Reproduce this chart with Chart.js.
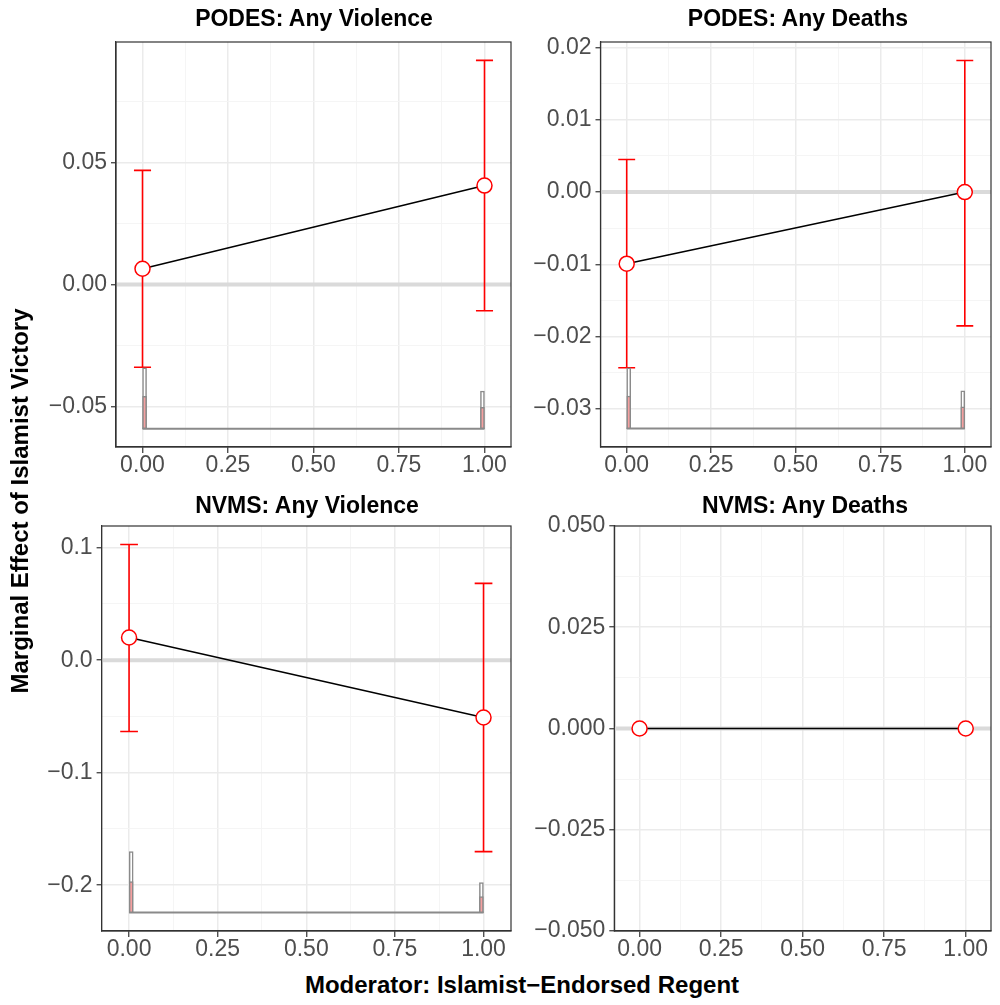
<!DOCTYPE html>
<html><head><meta charset="utf-8">
<script src="https://cdn.jsdelivr.net/npm/chart.js@4.4.1/dist/chart.umd.min.js"></script>
<style>
body{margin:0;background:#fff;width:1000px;height:1005px;position:relative;overflow:hidden;font-family:"Liberation Sans",Arial,sans-serif;}
canvas{position:absolute;}
.t{position:absolute;font-weight:bold;font-size:23px;color:#000;text-align:center;white-space:nowrap;line-height:26px;}
</style></head><body>
<script>
// ---------- data ----------
const xValues = [0, 1];
const xMajor = [0, 0.25, 0.5, 0.75, 1];
const xMajorLabels = ["0.00", "0.25", "0.50", "0.75", "1.00"];
const xMinor = [0.125, 0.375, 0.625, 0.875];
const xLimits = [-0.0775, 1.0775];
const histLo = [0, 0.988];
const histHi = [0.012, 1];
const refY = 0;

// PODES: Any Violence
const pvTitle = "PODES: Any Violence";
const pvEst = [0.0065, 0.0405];
const pvLo = [-0.0338, -0.0107];
const pvHi = [0.0467, 0.0917];
const pvHistAll = [-0.0340, -0.0435];
const pvHistTreat = [-0.0457, -0.0502];
const pvHistBase = -0.0589;
const pvYMajor = [-0.05, 0, 0.05];
const pvYLabels = ["\u22120.05", "0.00", "0.05"];
const pvYMinor = [-0.025, 0.025, 0.075];
const pvYLim = [-0.0664, 0.0992];

// PODES: Any Deaths
const pdTitle = "PODES: Any Deaths";
const pdEst = [-0.0099, 0.0];
const pdLo = [-0.0243, -0.0185];
const pdHi = [0.0045, 0.0182];
const pdHistAll = [-0.0243, -0.0275];
const pdHistTreat = [-0.0282, -0.0297];
const pdHistBase = -0.0327;
const pdYMajor = [-0.03, -0.02, -0.01, 0, 0.01, 0.02];
const pdYLabels = ["\u22120.03", "\u22120.02", "\u22120.01", "0.00", "0.01", "0.02"];
const pdYMinor = [-0.025, -0.015, -0.005, 0.005, 0.015];
const pdYLim = [-0.03525, 0.02075];

// NVMS: Any Violence
const nvTitle = "NVMS: Any Violence";
const nvEst = [0.0202, -0.0509];
const nvLo = [-0.0634, -0.1701];
const nvHi = [0.1029, 0.0683];
const nvHistAll = [-0.1701, -0.1976];
const nvHistTreat = [-0.1968, -0.2101];
const nvHistBase = -0.2243;
const nvYMajor = [-0.2, -0.1, 0, 0.1];
const nvYLabels = ["\u22120.2", "\u22120.1", "0.0", "0.1"];
const nvYMinor = [-0.15, -0.05, 0.05];
const nvYLim = [-0.2407, 0.1193];

// NVMS: Any Deaths
const ndTitle = "NVMS: Any Deaths";
const ndEst = [0, 0];
const ndYMajor = [-0.05, -0.025, 0, 0.025, 0.05];
const ndYLabels = ["\u22120.050", "\u22120.025", "0.000", "0.025", "0.050"];
const ndYMinor = [-0.0375, -0.0125, 0.0125, 0.0375];
const ndYLim = [-0.05, 0.05];

const yTitle = "Marginal Effect of Islamist Victory";
const xTitle = "Moderator: Islamist\u2212Endorsed Regent";

// ---------- layout ----------
const FONT = "'Liberation Sans', Arial, Helvetica, sans-serif";
const panels = [
  {title: pvTitle, est: pvEst, lo: pvLo, hi: pvHi, hAll: pvHistAll, hTr: pvHistTreat, hBase: pvHistBase,
   yMajor: pvYMajor, yLabels: pvYLabels, yMinor: pvYMinor, yLim: pvYLim,
   box: {left: 0, top: 22, width: 520, height: 464}, yW: 116, padR: 8, padT: 20, xH: 39},
  {title: pdTitle, est: pdEst, lo: pdLo, hi: pdHi, hAll: pdHistAll, hTr: pdHistTreat, hBase: pdHistBase,
   yMajor: pdYMajor, yLabels: pdYLabels, yMinor: pdYMinor, yLim: pdYLim,
   box: {left: 520, top: 22, width: 480, height: 464}, yW: 80.5, padR: 4.5, padT: 20, xH: 39},
  {title: nvTitle, est: nvEst, lo: nvLo, hi: nvHi, hAll: nvHistAll, hTr: nvHistTreat, hBase: nvHistBase,
   yMajor: nvYMajor, yLabels: nvYLabels, yMinor: nvYMinor, yLim: nvYLim,
   box: {left: 0, top: 506, width: 520, height: 464}, yW: 101.6, padR: 8, padT: 20, xH: 39},
  {title: ndTitle, est: ndEst, lo: null, hi: null, hAll: null, hTr: null, hBase: null,
   yMajor: ndYMajor, yLabels: ndYLabels, yMinor: ndYMinor, yLim: ndYLim,
   box: {left: 520, top: 506, width: 480, height: 464}, yW: 94.3, padR: 4.5, padT: 20, xH: 39}
];

const near = (a, b) => Math.abs(a - b) < 1e-9;
const isIn = (arr, v) => arr.some(m => near(m, v));
const labelFor = (arr, labels, v) => { const i = arr.findIndex(m => near(m, v)); return i >= 0 ? labels[i] : ''; };

const overlayPlugin = {
  id: 'overlay',
  beforeDatasetsDraw(chart) {
    const p = chart.options.plugins.overlay.panel;
    const {ctx, chartArea: a, scales: {x, y}} = chart;
    ctx.save();
    ctx.beginPath(); ctx.rect(a.left, a.top, a.width, a.height); ctx.clip();
    ctx.strokeStyle = '#dadada'; ctx.lineWidth = 4;
    const y0 = y.getPixelForValue(refY);
    ctx.beginPath(); ctx.moveTo(a.left, y0); ctx.lineTo(a.right, y0); ctx.stroke();
    if (p.lo) {
      ctx.strokeStyle = '#ff0000'; ctx.lineWidth = 1.6;
      for (let i = 0; i < xValues.length; i++) {
        const xp = x.getPixelForValue(xValues[i]);
        const yl = y.getPixelForValue(p.lo[i]), yh = y.getPixelForValue(p.hi[i]);
        const xl = x.getPixelForValue(xValues[i] - 0.025), xr = x.getPixelForValue(xValues[i] + 0.025);
        ctx.beginPath();
        ctx.moveTo(xp, yl); ctx.lineTo(xp, yh);
        ctx.moveTo(xl, yl); ctx.lineTo(xr, yl);
        ctx.moveTo(xl, yh); ctx.lineTo(xr, yh);
        ctx.stroke();
      }
    }
    ctx.restore();
  },
  afterDraw(chart) {
    const {ctx, chartArea: a} = chart;
    ctx.save(); ctx.strokeStyle = '#333333'; ctx.lineWidth = 1.2;
    ctx.strokeRect(a.left, a.top, a.width, a.height);
    ctx.restore();
  }
};

function makePanel(p) {
  const cv = document.createElement('canvas');
  cv.width = p.box.width; cv.height = p.box.height;
  cv.style.left = p.box.left + 'px'; cv.style.top = p.box.top + 'px';
  cv.style.width = p.box.width + 'px'; cv.style.height = p.box.height + 'px';
  document.body.appendChild(cv);

  const datasets = [{
    type: 'line', data: p.est.map((v, i) => ({x: xValues[i], y: v})),
    borderColor: '#000', borderWidth: 1.5, pointRadius: 7.5, pointHoverRadius: 7.5,
    pointBackgroundColor: '#fff', pointBorderColor: '#ff0000', pointBorderWidth: 1.5,
    tension: 0, order: 0
  }];
  if (p.hAll) {
    datasets.push({
      type: 'line', data: [{x: histLo[0], y: p.hBase}, {x: histHi[histHi.length - 1], y: p.hBase}],
      borderColor: '#8a8a8a', borderWidth: 2, pointRadius: 0, order: 3
    });
    datasets.push({
      type: 'bar', data: p.hAll.map((t, i) => ({x: (histLo[i] + histHi[i]) / 2, y: [p.hBase, t]})),
      backgroundColor: '#ffffff', borderColor: '#8a8a8a', borderWidth: 1.5, borderSkipped: false,
      barThickness: 4, grouped: false, order: 2
    });
    datasets.push({
      type: 'bar', data: p.hTr.map((t, i) => ({x: (histLo[i] + histHi[i]) / 2, y: [p.hBase, t]})),
      backgroundColor: '#f5a0a0', borderColor: '#8a8a8a', borderWidth: 1.5, borderSkipped: false,
      barThickness: 4, grouped: false, order: 1
    });
  }

  const xAll = xMajor.concat(xMinor).sort((a, b) => a - b);
  const yAll = p.yMajor.concat(p.yMinor).sort((a, b) => a - b);

  new Chart(cv, {
    type: 'bar',
    data: {datasets},
    plugins: [overlayPlugin],
    options: {
      responsive: false, animation: false, devicePixelRatio: 1,
      layout: {padding: {left: 0, right: p.padR, top: p.padT, bottom: 0}},
      plugins: {legend: {display: false}, tooltip: {enabled: false}, overlay: {panel: p}},
      scales: {
        x: {
          type: 'linear', min: xLimits[0], max: xLimits[1], offset: false,
          afterBuildTicks: s => { s.ticks = xAll.map(v => ({value: v})); },
          afterFit: s => { s.height = p.xH; s.paddingLeft = 0; s.paddingRight = 0; s.paddingTop = 0; s.paddingBottom = 0; },
          ticks: {autoSkip: false, maxRotation: 0, minRotation: 0, color: '#4d4d4d', padding: -1,
                  font: {family: FONT, size: 23},
                  callback: v => labelFor(xMajor, xMajorLabels, v)},
          grid: {offset: false,
                 color: c => isIn(xMajor, c.tick.value) ? '#ebebeb' : '#f4f4f4',
                 lineWidth: c => isIn(xMajor, c.tick.value) ? 1.5 : 0.9,
                 tickColor: c => isIn(xMajor, c.tick.value) ? '#333333' : 'rgba(0,0,0,0)',
                 tickLength: 6, tickWidth: 1.2},
          border: {display: true, color: '#333333', width: 1.2}
        },
        y: {
          type: 'linear', min: p.yLim[0], max: p.yLim[1],
          afterBuildTicks: s => { s.ticks = yAll.map(v => ({value: v})); },
          afterFit: s => { s.width = p.yW; s.paddingLeft = 0; s.paddingRight = 0; s.paddingTop = 0; s.paddingBottom = 0; },
          ticks: {autoSkip: false, color: '#4d4d4d', padding: 4,
                  font: {family: FONT, size: 23},
                  callback: v => labelFor(p.yMajor, p.yLabels, v)},
          grid: {color: c => isIn(p.yMajor, c.tick.value) ? '#ebebeb' : '#f4f4f4',
                 lineWidth: c => isIn(p.yMajor, c.tick.value) ? 1.5 : 0.9,
                 tickColor: c => isIn(p.yMajor, c.tick.value) ? '#333333' : 'rgba(0,0,0,0)',
                 tickLength: 5, tickWidth: 1.2},
          border: {display: true, color: '#333333', width: 1.2}
        }
      }
    }
  });
}

panels.forEach(makePanel);

// titles
const titlePos = [[314, 5], [798, 5], [307, 492], [805, 492]];
panels.forEach((p, i) => {
  const d = document.createElement('div');
  d.className = 't'; d.textContent = p.title;
  d.style.left = (titlePos[i][0] - 200) + 'px'; d.style.width = '400px'; d.style.top = titlePos[i][1] + 'px';
  document.body.appendChild(d);
});
const yt = document.createElement('div');
yt.className = 't'; yt.textContent = yTitle; yt.style.fontSize = '24px';
yt.style.width = '600px'; yt.style.left = (20 - 300) + 'px'; yt.style.top = (501 - 13) + 'px';
yt.style.transform = 'rotate(-90deg)';
document.body.appendChild(yt);
const xt = document.createElement('div');
xt.className = 't'; xt.textContent = xTitle; xt.style.fontSize = '24px';
xt.style.width = '700px'; xt.style.left = (522 - 350) + 'px'; xt.style.top = (985 - 13) + 'px';
document.body.appendChild(xt);
</script>
</body></html>
